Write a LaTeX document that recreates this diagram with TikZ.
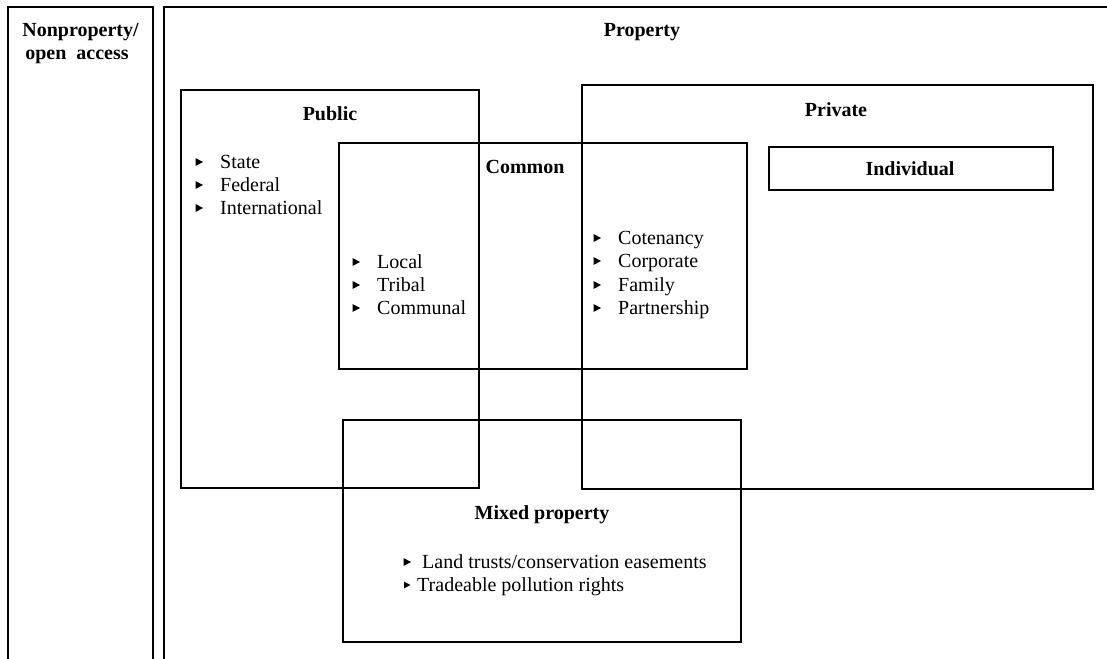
\documentclass[tikz,border=0pt]{standalone}
\usepackage{fontspec}
\setmainfont{Liberation Serif}
\begin{document}
\begin{tikzpicture}[x=1pt,y=-1pt,
  box/.style={draw=black,line width=2pt},
  hdr/.style={font=\fontsize{20}{23}\selectfont\bfseries,inner sep=0pt},
  item/.style={font=\fontsize{20}{23}\selectfont,inner sep=0pt,anchor=base west},
  bul/.pic={\fill[black] (-3.5,-4) -- (4,0) -- (-3.5,4) -- cycle;}
]
\useasboundingbox (0,0) rectangle (1107,658);
% outer frames
\draw[line width=2.6pt] (8,660) -- (8,7) -- (153,7) -- (153,660);
\draw[line width=2pt] (164,660) -- (164,7) -- (1110,7);
% inner boxes
\draw[box] (181,90) rectangle (479,488);
\draw[box] (339,143) rectangle (747,369);
\draw[box] (582,85) rectangle (1093,489);
\draw[box] (769,147) rectangle (1053,190);
\draw[box] (343,420) rectangle (741,642);
% headers
\node[hdr,anchor=base] (nonprop1) at (80.5,37) {Nonproperty/};
\node[hdr,anchor=base] (nonprop2) at (77,60) {open\ \ access};
\node[hdr] (prop) at (642,32) {Property};
\node[hdr] (pub) at (330,114) {Public};
\node[hdr] (com) at (525,167) {Common};
\node[hdr] (priv) at (836,110) {Private};
\node[hdr] (ind) at (910,169) {Individual};
\node[hdr] (mix) at (542,515) {Mixed property};
% public items
\foreach \t/\yy [count=\i] in {State/168,Federal/191,International/214}{
  \pic at (199,\yy-6) {bul};
  \node[item] (pubi\i) at (220,\yy) {\t};
}
% common items
\foreach \t/\yy [count=\i] in {Local/268,Tribal/291,Communal/314}{
  \pic at (356,\yy-6) {bul};
  \node[item] (comi\i) at (377,\yy) {\t};
}
% private-common items
\foreach \t/\yy [count=\i] in {Cotenancy/244,Corporate/267,Family/291,Partnership/314}{
  \pic at (597,\yy-6) {bul};
  \node[item] (prvi\i) at (618,\yy) {\t};
}
% mixed items
\pic at (407,562) {bul};
\node[item] (mixi1) at (422,568) {Land trusts/conservation easements};
\pic[scale=0.85] at (407,585) {bul};
\node[item] (mixi2) at (417,591) {Tradeable pollution rights};
\end{tikzpicture}
\end{document}
